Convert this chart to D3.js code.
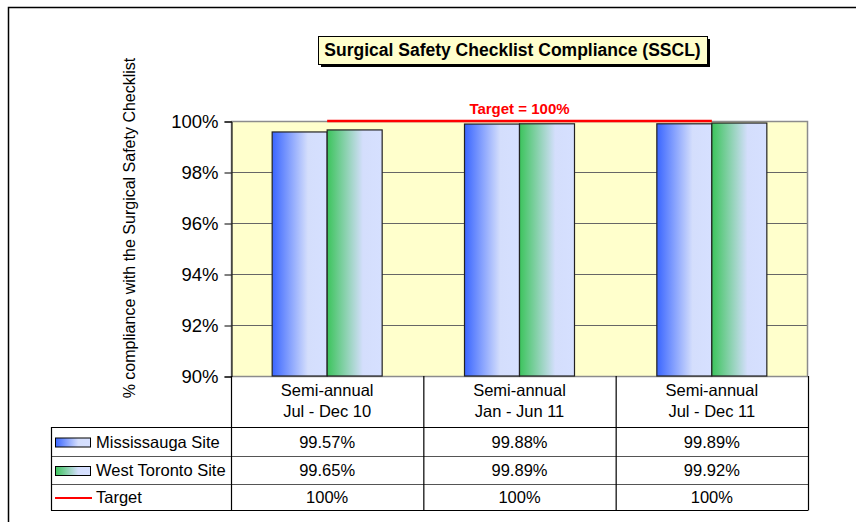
<!DOCTYPE html>
<html>
<head>
<meta charset="utf-8">
<script src="https://cdn.jsdelivr.net/npm/d3@7"></script>
<style>
  body { margin: 0; background: #fff; }
  svg { display: block; font-family: "Liberation Sans", Arial, sans-serif; }
</style>
</head>
<body>
<div id="chart"></div>
<script>
// chart data
const categories = [["Semi-annual", "Jul - Dec 10"], ["Semi-annual", "Jan - Jun 11"], ["Semi-annual", "Jul - Dec 11"]];
const mississauga = [99.57, 99.88, 99.89];
const westToronto = [99.65, 99.89, 99.92];
const target = [100, 100, 100];
const yTicks = [90, 92, 94, 96, 98, 100];
const seriesNames = ["Mississauga Site", "West Toronto Site", "Target"];

const width = 856, height = 522;
const plot = {left: 231, right: 808, top: 121, bottom: 376};

const svg = d3.select('#chart').append('svg')
  .attr('width', width)
  .attr('height', height);

// gradients for the bars
const defs = svg.append('defs');
function grad(id, c0) {
  const g = defs.append('linearGradient').attr('id', id)
    .attr('x1', '0%').attr('x2', '100%').attr('y1', '0%').attr('y2', '0%');
  g.append('stop').attr('offset', '0%').attr('stop-color', c0);
  g.append('stop').attr('offset', '65%').attr('stop-color', '#d4defc');
  g.append('stop').attr('offset', '100%').attr('stop-color', '#d6e0ff');
}
grad('gBlue', '#3a66ff');
grad('gGreen', '#3cc45c');

// outer frame
svg.append('rect')
  .attr('x', 8.5).attr('y', 7.5)
  .attr('width', 900).attr('height', 600)
  .attr('fill', 'none').attr('stroke', '#000').attr('stroke-width', 1.5);

const x = d3.scaleBand().domain(d3.range(categories.length)).range([plot.left, plot.right]);
const y = d3.scaleLinear().domain([90, 100]).range([plot.bottom, plot.top]);

// plot background
svg.append('rect')
  .attr('x', plot.left).attr('y', plot.top)
  .attr('width', plot.right - plot.left).attr('height', plot.bottom - plot.top)
  .attr('fill', '#ffffcc');

// gridlines
svg.append('g').selectAll('line')
  .data(yTicks.slice(1, -1))
  .enter().append('line')
  .attr('x1', plot.left).attr('x2', plot.right)
  .attr('y1', d => y(d) + 0.5).attr('y2', d => y(d) + 0.5)
  .attr('stroke', '#666').attr('stroke-width', 1);

// plot border
svg.append('rect')
  .attr('x', plot.left + 0.5).attr('y', plot.top + 0.5)
  .attr('width', plot.right - plot.left - 1).attr('height', plot.bottom - plot.top)
  .attr('fill', 'none').attr('stroke', '#8c8c8c').attr('stroke-width', 1.5);

// bars
const bw = 55;
function bars(vals, fill) {
  svg.append('g').selectAll('rect')
    .data(vals)
    .enter().append('rect')
    .attr('x', (d, i) => fill === 'gBlue' ? x(i) + x.bandwidth() / 2 - bw : x(i) + x.bandwidth() / 2)
    .attr('y', d => y(d))
    .attr('width', bw)
    .attr('height', d => y(90) - y(d))
    .attr('fill', 'url(#' + fill + ')')
    .attr('stroke', '#222').attr('stroke-width', 1.2);
}
bars(mississauga, 'gBlue');
bars(westToronto, 'gGreen');

// target line from first to last category centre
const line = d3.line()
  .x((d, i) => x(i) + x.bandwidth() / 2)
  .y(d => y(d));
svg.append('path')
  .datum(target)
  .attr('d', line)
  .attr('fill', 'none')
  .attr('stroke', '#ff0000').attr('stroke-width', 2.5);

svg.append('text')
  .attr('x', x(1) + x.bandwidth() / 2).attr('y', 114)
  .attr('text-anchor', 'middle')
  .attr('font-size', 15).attr('font-weight', 'bold').attr('fill', '#ff0000')
  .text('Target = 100%');

// y axis
const yAxis = svg.append('g')
  .attr('transform', 'translate(' + (plot.left + 0.5) + ',0.5)')
  .call(d3.axisLeft(y).tickValues(yTicks).tickFormat(d => d + '%').tickSize(7).tickPadding(6));
yAxis.select('.domain').attr('stroke', '#000');
yAxis.selectAll('line').attr('stroke', '#000');
yAxis.selectAll('text').attr('font-size', 18.5).attr('fill', '#000')
  .attr('font-family', '"Liberation Sans", Arial, sans-serif');

// y axis title
svg.append('text')
  .attr('transform', 'translate(135,228) rotate(-90)')
  .attr('text-anchor', 'middle')
  .attr('font-size', 16)
  .text('% compliance with the Surgical Safety Checklist');

// data table
const rowY = [376, 427, 456, 484, 510];
const tableLeft = 51;
const tg = svg.append('g').attr('stroke', '#000').attr('stroke-width', 1.2);
// horizontal lines
tg.selectAll('.h')
  .data(rowY.slice(1))
  .enter().append('line')
  .attr('x1', tableLeft).attr('x2', plot.right)
  .attr('y1', d => d + 0.5).attr('y2', d => d + 0.5)
  .attr('stroke', (d, i) => i === 0 || i === 3 ? '#000' : '#555');
// vertical lines
const colX = [plot.left, x(1), x(2), plot.right];
tg.selectAll('.v')
  .data(colX)
  .enter().append('line')
  .attr('x1', d => d + 0.5).attr('x2', d => d + 0.5)
  .attr('y1', plot.bottom).attr('y2', rowY[4] + 0.5);
tg.append('line')
  .attr('x1', tableLeft + 0.5).attr('x2', tableLeft + 0.5)
  .attr('y1', rowY[1]).attr('y2', rowY[4] + 0.5);

// category headers
categories.forEach((c, i) => {
  const t = svg.append('text')
    .attr('x', x(i) + x.bandwidth() / 2)
    .attr('text-anchor', 'middle')
    .attr('font-size', 16.5);
  t.append('tspan').attr('x', x(i) + x.bandwidth() / 2).attr('y', 396).text(c[0]);
  t.append('tspan').attr('x', x(i) + x.bandwidth() / 2).attr('y', 417).text(c[1]);
});

// values
const rows = [mississauga, westToronto, target];
rows.forEach((vals, r) => {
  const cy = (rowY[r + 1] + rowY[r + 2]) / 2 + 6;
  svg.append('g').selectAll('text')
    .data(vals)
    .enter().append('text')
    .attr('x', (d, i) => x(i) + x.bandwidth() / 2)
    .attr('y', cy)
    .attr('text-anchor', 'middle')
    .attr('font-size', 16.5)
    .text(d => r === 2 ? d + '%' : d.toFixed(2) + '%');

  // legend keys
  if (r < 2) {
    svg.append('rect')
      .attr('x', 55.5).attr('y', cy - 9.5)
      .attr('width', 35).attr('height', 9)
      .attr('fill', r === 0 ? 'url(#gBlue)' : 'url(#gGreen)')
      .attr('stroke', '#000').attr('stroke-width', 1);
  } else {
    svg.append('line')
      .attr('x1', 55).attr('x2', 92)
      .attr('y1', cy - 5).attr('y2', cy - 5)
      .attr('stroke', '#ff0000').attr('stroke-width', 2);
  }
  svg.append('text')
    .attr('x', 96).attr('y', cy)
    .attr('font-size', 16.5)
    .text(seriesNames[r]);
});

// title box with shadow
const title = {x: 318, y: 36, w: 389, h: 28};
svg.append('rect')
  .attr('x', title.x + 3).attr('y', title.y + 3)
  .attr('width', title.w).attr('height', title.h)
  .attr('fill', '#000');
svg.append('rect')
  .attr('x', title.x + 0.5).attr('y', title.y + 0.5)
  .attr('width', title.w).attr('height', title.h)
  .attr('fill', '#ffffcc').attr('stroke', '#000').attr('stroke-width', 1);
svg.append('text')
  .attr('x', title.x + title.w / 2).attr('y', title.y + 20)
  .attr('text-anchor', 'middle')
  .attr('font-size', 17.5).attr('font-weight', 'bold')
  .text('Surgical Safety Checklist Compliance (SSCL)');
</script>
</body>
</html>
